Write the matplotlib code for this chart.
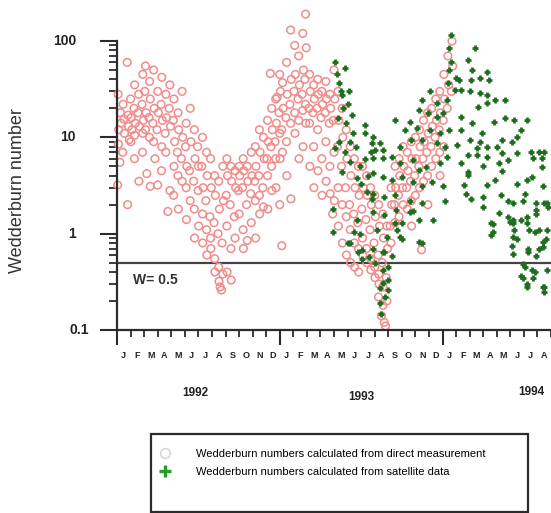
import matplotlib
matplotlib.use("Agg")
import matplotlib.pyplot as plt
from matplotlib.lines import Line2D
from matplotlib.patches import Rectangle

plt.rcParams["font.family"] = ["Liberation Sans", "DejaVu Sans"]

# x = months since 1 Jan 1992, y = Wedderburn number
direct_1992 = [
    (0.08, 28), (0.12, 12), (0.1, 8.5), (0.25, 18), (0.3, 14), (0.22, 5.5), (0.45, 22), (0.5, 15.5),
    (0.55, 11), (0.42, 7), (0.75, 60), (0.8, 17), (0.85, 13), (0.78, 2.0), (0.9, 9.5), (0.05, 3.2),
    (1.0, 25), (1.05, 16), (1.1, 12), (1.02, 9), (1.3, 35), (1.25, 20), (1.35, 14), (1.3, 10.5),
    (1.28, 6), (1.6, 28), (1.55, 18), (1.65, 13), (1.62, 3.5), (1.9, 45), (1.85, 22), (1.95, 15),
    (1.9, 11), (1.88, 7), (2.1, 55), (2.05, 30), (2.15, 18), (2.1, 12), (2.2, 4.2), (2.4, 38),
    (2.45, 25), (2.35, 16), (2.4, 10), (2.45, 3.1), (2.7, 50), (2.75, 20), (2.65, 14), (2.7, 9),
    (2.8, 6), (3.0, 30), (3.05, 18), (2.95, 12), (3.0, 3.2), (3.3, 42), (3.25, 22), (3.35, 15),
    (3.3, 8), (3.28, 4.5), (3.6, 28), (3.65, 16), (3.55, 11), (3.6, 7), (3.9, 35), (3.85, 20),
    (3.95, 13), (3.9, 2.8), (3.75, 1.7), (4.2, 25), (4.15, 15), (4.25, 9), (4.2, 5), (4.18, 2.5),
    (4.5, 18), (4.55, 12), (4.45, 7), (4.5, 4), (4.52, 1.8), (4.8, 30), (4.85, 10), (4.75, 6),
    (4.8, 3.5), (5.1, 14), (5.05, 8), (5.15, 5), (5.1, 3), (5.12, 1.4), (5.4, 20), (5.45, 9),
    (5.35, 4.5), (5.4, 2.2), (5.7, 12), (5.75, 6), (5.65, 3.5), (5.7, 1.8), (5.72, 0.9), (5.95, 8),
    (6.0, 5), (5.98, 2.8), (6.02, 1.2), (6.3, 10), (6.25, 5), (6.35, 3), (6.3, 1.6), (6.32, 0.8),
    (6.6, 7), (6.65, 4), (6.55, 2.2), (6.6, 1.1), (6.62, 0.6), (6.9, 6), (6.95, 3), (6.85, 1.5),
    (6.9, 0.9), (6.92, 0.7), (7.2, 4), (7.25, 2.5), (7.15, 1.3), (7.2, 0.55), (7.22, 0.4), (7.5, 3.5),
    (7.55, 1.8), (7.45, 1.0), (7.5, 0.45), (7.52, 0.32), (7.8, 5), (7.85, 2.2), (7.75, 0.8), (7.8, 0.38),
    (7.6, 0.28), (7.7, 0.26), (8.1, 6), (8.15, 4), (8.05, 2.5), (8.1, 1.2), (8.12, 0.4), (8.4, 5),
    (8.45, 3.5), (8.35, 2), (8.4, 0.7), (8.42, 0.33), (8.7, 4.5), (8.75, 3), (8.65, 1.5), (8.7, 0.9),
    (9.0, 5), (9.05, 4), (8.95, 2.8), (9.0, 1.6), (9.3, 6), (9.35, 4.5), (9.25, 3), (9.3, 1.1),
    (9.32, 0.7), (9.6, 5), (9.65, 3.5), (9.55, 2), (9.6, 0.85), (9.9, 7), (9.95, 4), (9.85, 2.6),
    (9.9, 1.3), (10.2, 8), (10.25, 5), (10.15, 3.5), (10.2, 2.2), (10.22, 0.9), (10.5, 12), (10.55, 7),
    (10.45, 4), (10.5, 2.5), (10.52, 1.6), (10.8, 10), (10.85, 6), (10.75, 3), (10.8, 1.9), (11.1, 15),
    (11.15, 9), (11.05, 6), (11.1, 4), (11.12, 1.8), (11.4, 20), (11.45, 12), (11.35, 8), (11.4, 5),
    (11.42, 2.8), (11.7, 25), (11.75, 14), (11.65, 9), (11.7, 6), (11.72, 3), (11.3, 46), (11.8, 26),
]

direct_1993 = [
    (12.0, 45), (12.05, 30), (11.95, 18), (12.0, 11), (12.02, 6), (12.0, 2), (12.2, 37), (12.25, 20),
    (12.15, 12), (12.2, 7), (12.15, 0.75), (12.5, 60), (12.55, 28), (12.45, 16), (12.5, 9), (12.52, 4),
    (12.8, 130), (12.85, 40), (12.75, 22), (12.8, 14), (12.82, 2.3), (13.1, 90), (13.15, 45), (13.05, 30),
    (13.1, 18), (13.12, 11), (13.4, 70), (13.45, 35), (13.35, 25), (13.4, 15), (13.42, 6), (13.7, 120),
    (13.75, 50), (13.65, 28), (13.7, 19), (13.72, 8), (13.9, 190), (13.95, 85), (13.85, 40), (13.9, 22),
    (13.92, 14), (14.2, 45), (14.25, 30), (14.15, 20), (14.2, 14), (14.22, 5), (14.5, 35), (14.55, 25),
    (14.45, 18), (14.5, 8), (14.52, 3), (14.8, 40), (14.85, 28), (14.75, 20), (14.8, 12), (14.82, 4.5),
    (15.1, 30), (15.15, 22), (15.05, 16), (15.1, 6), (15.12, 2.5), (15.4, 38), (15.45, 25), (15.35, 18),
    (15.4, 9), (15.42, 3.5), (15.7, 28), (15.75, 20), (15.65, 14), (15.7, 5), (15.72, 2.6), (16.0, 50),
    (16.05, 25), (15.95, 15), (16.0, 7), (16.02, 2.2), (15.9, 1.6), (16.3, 30), (16.35, 15), (16.25, 8),
    (16.3, 3), (16.32, 1.2), (16.6, 20), (16.65, 10), (16.55, 5), (16.6, 2), (16.62, 0.8), (16.9, 12),
    (16.95, 6), (16.85, 3), (16.9, 1.5), (16.92, 0.6), (17.2, 8), (17.25, 4), (17.15, 2), (17.2, 1.1),
    (17.22, 0.5), (17.5, 6), (17.55, 3), (17.45, 1.6), (17.5, 0.8), (17.52, 0.45), (17.8, 5), (17.85, 2.5),
    (17.75, 1.3), (17.8, 0.7), (17.82, 0.4), (18.1, 5), (18.15, 3), (18.05, 1.8), (18.1, 0.9), (18.12, 0.6),
    (18.4, 4), (18.45, 2.5), (18.35, 1.4), (18.4, 0.7), (18.42, 0.5), (18.7, 3), (18.75, 2), (18.65, 1.1),
    (18.7, 0.55), (18.72, 0.42), (19.0, 2.5), (19.05, 1.5), (18.95, 0.8), (19.0, 0.45), (19.02, 0.35),
    (19.3, 2), (19.35, 1.2), (19.25, 0.6), (19.3, 0.38), (19.32, 0.3), (19.28, 0.22), (19.6, 1.6),
    (19.65, 0.9), (19.55, 0.5), (19.6, 0.28), (19.62, 0.18), (19.5, 0.14), (19.9, 1.2), (19.95, 0.7),
    (19.85, 0.35), (19.9, 0.2), (19.7, 0.12), (19.8, 0.11), (20.2, 3), (20.25, 2), (20.15, 1.2),
    (20.2, 0.8), (20.5, 5), (20.55, 3), (20.45, 2), (20.5, 1.3), (20.8, 6), (20.85, 4), (20.75, 2.5),
    (20.8, 1.5), (21.1, 8), (21.15, 5), (21.05, 3), (21.1, 2), (21.4, 7), (21.45, 4.5), (21.35, 3),
    (21.4, 1.8), (21.7, 9), (21.75, 6), (21.65, 3.5), (21.7, 2.2), (21.72, 1.2), (22.0, 10), (22.05, 6),
    (21.95, 4), (22.0, 2.5), (22.3, 12), (22.35, 8), (22.25, 5), (22.3, 3), (22.45, 0.68), (22.6, 15),
    (22.65, 9), (22.55, 6), (22.6, 3.5), (22.9, 18), (22.95, 11), (22.85, 7), (22.9, 4), (22.92, 2),
    (23.2, 20), (23.25, 13), (23.15, 8), (23.2, 5), (23.5, 25), (23.55, 15), (23.45, 10), (23.5, 6),
    (23.8, 30), (23.85, 18), (23.75, 12), (23.8, 7), (23.82, 4),
]

direct_1994 = [
    (24.1, 45), (24.15, 25), (24.05, 15), (24.1, 8), (24.4, 70), (24.45, 35), (24.35, 20),
    (24.7, 100), (24.75, 55), (24.65, 30),
]

sat_1993 = [
    (16.05, 61), (16.8, 52), (16.4, 37), (16.6, 27.5), (17.0, 22), (17.3, 17), (16.3, 16), (17.4, 11),
    (18.3, 13.5), (18.3, 11), (16.05, 7.8), (16.6, 4.4), (17.15, 5.5), (17.7, 3.8), (18.3, 6), (18.4, 2.7),
    (18.8, 2.3), (15.9, 1.8), (15.9, 1.05), (17.0, 0.8), (17.5, 1.05), (17.75, 0.65), (18.1, 0.55),
    (18.6, 0.57), (16.2, 45), (16.5, 30), (16.7, 20), (16.9, 14), (16.4, 9), (16.8, 7), (17.2, 9),
    (17.1, 30), (17.6, 8), (17.9, 5), (18.0, 3.3), (18.5, 4), (18.7, 7), (18.9, 10), (17.15, 0.8),
    (17.7, 1.4), (17.9, 1.0), (18.05, 0.68), (19.7, 0.64), (20.0, 0.45), (20.0, 0.33), (19.4, 0.27),
    (19.6, 0.31), (19.4, 0.19), (20.65, 1.1), (21.0, 0.87), (21.8, 1.7), (23.3, 1.4), (22.5, 0.8),
    (23.05, 30), (22.5, 24.4), (23.6, 22.7), (20.5, 15), (21.6, 14.4), (22.3, 19.2), (22.9, 17.9),
    (23.6, 16.3), (21.2, 11.9), (22.15, 12.5), (23.05, 11.9), (23.8, 11.1), (18.8, 8.7), (19.4, 8.7),
    (19.0, 7.4), (19.6, 7.4), (18.85, 6.1), (19.6, 6.1), (20.3, 6.3), (20.9, 8.0), (21.7, 9.4),
    (22.5, 9.4), (23.6, 8.7), (20.9, 5.4), (21.8, 5.8), (22.3, 4.6), (22.8, 4.9), (23.8, 5.4),
    (18.85, 4.3), (19.6, 3.9), (20.3, 3.6), (21.05, 3.9), (21.8, 3.4), (22.5, 3.1), (23.2, 3.4),
    (18.85, 2.6), (19.7, 2.4), (20.5, 2.5), (21.6, 2.2), (22.5, 2.1), (18.85, 1.67), (19.7, 1.56),
    (20.6, 1.77), (21.6, 1.67), (22.3, 1.39), (20.5, 1.30), (21.05, 1.30), (19.15, 1.10), (19.9, 0.93),
    (20.85, 0.93), (22.3, 0.81), (18.85, 0.69), (19.6, 0.64), (20.3, 0.58), (19.0, 0.5), (19.6, 0.42),
    (19.95, 0.26), (19.75, 0.22), (19.5, 0.145),
]

sat_1994 = [
    (24.6, 115), (24.5, 85), (24.6, 61), (24.5, 50), (25.0, 41), (24.4, 37), (24.9, 31), (24.3, 24.4),
    (24.0, 17.9), (24.5, 11.9), (24.2, 8.0), (24.3, 6.3), (24.0, 3.1), (24.2, 2.2),
    (26.4, 85), (25.9, 64), (26.2, 50), (27.3, 48), (26.75, 41), (26.1, 39), (27.45, 39), (25.2, 39),
    (25.4, 31), (26.0, 30), (26.75, 29), (27.3, 27.5), (27.3, 22.7), (27.9, 24.4), (28.6, 24.4),
    (26.6, 20.6), (25.4, 16.3), (26.2, 14.1), (25.4, 11.9), (27.8, 14.4), (28.6, 15.9), (29.3, 15.1),
    (30.2, 15.1), (29.8, 11.9), (29.5, 10.0), (28.4, 9.4), (29.1, 8.9), (26.0, 9.4), (25.1, 8.3),
    (28.05, 8.0), (28.4, 6.9), (28.2, 5.4), (28.8, 5.8), (28.4, 4.5), (29.5, 6.9), (25.85, 4.4),
    (25.85, 4.1), (29.5, 3.3), (30.6, 3.9), (30.2, 3.6), (31.4, 3.1), (31.5, 2.1), (31.7, 2.1),
    (25.6, 3.2), (25.75, 2.6), (26.1, 2.3), (26.95, 2.4), (26.95, 1.9), (28.35, 2.5), (28.8, 2.2),
    (29.2, 2.1), (30.05, 2.6), (29.9, 2.2), (30.9, 2.1), (30.9, 1.77), (28.2, 1.64), (28.8, 1.49),
    (28.95, 1.33), (29.2, 1.30), (29.3, 1.10), (29.8, 1.39), (30.2, 1.30), (30.4, 1.10), (30.8, 1.03),
    (31.15, 1.10), (31.4, 0.81), (31.65, 0.87), (31.15, 0.69), (29.5, 0.87), (29.1, 0.74), (29.2, 0.61),
    (30.3, 0.69), (30.05, 0.45), (29.8, 0.36), (30.8, 0.40), (30.65, 0.35), (30.2, 0.28), (31.4, 0.28),
    (31.5, 0.25), (26.9, 11.1), (26.75, 8.9), (27.25, 8.0), (26.55, 7.8), (25.85, 6.6), (26.55, 6.6),
    (27.25, 6.3), (25.4, 5.4), (27.0, 5.0), (27.25, 3.2), (27.85, 3.6), (27.6, 1.30), (27.7, 1.03),
    (30.5, 7.0), (31.1, 7.0), (31.5, 7.0), (30.65, 6.1), (31.35, 6.1), (31.3, 4.9), (27.7, 1.25),
    (27.6, 0.98), (29.2, 0.92), (30.3, 0.65), (29.9, 0.48), (30.6, 0.42), (29.9, 0.35), (30.2, 0.30),
    (31.5, 0.28), (31.7, 0.42), (30.9, 0.58), (31.4, 0.73), (29.2, 1.4), (30.2, 1.5), (30.9, 1.6),
    (31.7, 1.1), (31.75, 1.9),
]

month_letters = list("JFMAMJJASOND") * 2 + list("JFMAMJJA")
year_labels = ["1992", "1993", "1994"]
year_label_x = [5.75, 18.05, 30.55]
y_ticks = [0.1, 1, 10, 100]
y_tick_labels = ["0.1", "1", "10", "100"]
w_threshold = 0.5

DARK = "#2b2b2b"
RED = "#f08c8c"
GREEN = "#1f6e1f"

fig = plt.figure(figsize=(5.51, 5.13), dpi=100)
ax = fig.add_axes([117 / 551, 183 / 513, 434 / 551, 318 / 513])

direct = direct_1992 + direct_1993 + direct_1994
sat = sat_1993 + sat_1994
ax.scatter([p[0] for p in direct], [p[1] for p in direct], s=30, facecolors="none",
           edgecolors=RED, linewidths=1.1, clip_on=False, zorder=2)
ax.scatter([p[0] for p in sat], [p[1] for p in sat], s=22, marker="+",
           color=GREEN, linewidths=2.0, clip_on=False, zorder=3)

ax.axhline(w_threshold, color="#444444", lw=1.6, zorder=1)
ax.text(1.15, 0.33, "W= 0.5", fontsize=10, fontweight="bold", color="#333333",
        ha="left", va="center")

ax.set_yscale("log")
ax.set_ylim(0.1, 200)
ax.set_xlim(0, 31.96)

for side in ("top", "right"):
    ax.spines[side].set_visible(False)
ax.spines["left"].set_bounds(0.1, 100)
for side in ("left", "bottom"):
    ax.spines[side].set_color(DARK)
    ax.spines[side].set_linewidth(1.6)

# y ticks, labels drawn by hand so each one sits where the original has it
ax.set_yticks(y_ticks)
ax.set_yticklabels([])
ax.set_yticks([k * 10.0 ** e for e in (-1, 0, 1) for k in range(2, 10)], minor=True)
ax.tick_params(axis="y", which="major", length=12, width=1.5, color=DARK)
ax.tick_params(axis="y", which="minor", length=6, width=1.3, color=DARK)
for val, lab in zip(y_ticks, y_tick_labels):
    off = -20 if lab == "0.1" else -29.5
    ax.annotate(lab, xy=(0, val), xycoords=("axes fraction", "data"),
                xytext=(off, 0), textcoords="offset points", ha="right", va="center",
                fontsize=10, fontweight="bold", color="#222222")

# x ticks: month boundaries, longer marks between years
ax.set_xticks([0, 12, 24])
ax.set_xticklabels([])
ax.set_xticks(range(0, 33), minor=True)
ax.tick_params(axis="x", which="major", length=11, width=1.5, color=DARK)
ax.tick_params(axis="x", which="minor", length=5, width=1.3, color=DARK)
for i, lab in enumerate(month_letters):
    ax.annotate(lab, xy=(i + 0.5, 0), xycoords=("data", "axes fraction"),
                xytext=(0, -18), textcoords="offset points", ha="center", va="center",
                fontsize=6.5, fontweight="bold", color="#222222")
for x, lab, dy in zip(year_label_x, year_labels, [-45, -48, -44.5]):
    ax.annotate(lab, xy=(x, 0), xycoords=("data", "axes fraction"),
                xytext=(0, dy), textcoords="offset points", ha="center", va="center",
                fontsize=8.5, fontweight="bold", color="#222222")

fig.text(18 / 551, 1 - 191 / 513, "Wedderburn number", rotation=90,
         ha="center", va="center", fontsize=13, color="#333333")

# legend box
fig.patches.append(Rectangle((151 / 551, 1 - 512 / 513), 377 / 551, 78 / 513,
                             transform=fig.transFigure, fill=False,
                             edgecolor=DARK, linewidth=1.6))
handles = [
    Line2D([], [], ls="none", marker="o", ms=7, mfc="none", mec="#d8d8d8", mew=1.2),
    Line2D([], [], ls="none", marker="+", ms=8, color="#2a9a2a", mew=2.4),
]
labels = [
    "Wedderburn numbers calculated from direct measurement",
    "Wedderburn numbers calculated from satellite data",
]
fig.legend(handles, labels, loc="upper left", bbox_to_anchor=(158 / 551, 1 - 449 / 513),
           frameon=False, fontsize=8, handlelength=1.2, handletextpad=2.2,
           labelspacing=0.75, borderpad=0, borderaxespad=0)

fig.savefig("out.png", dpi=100)
